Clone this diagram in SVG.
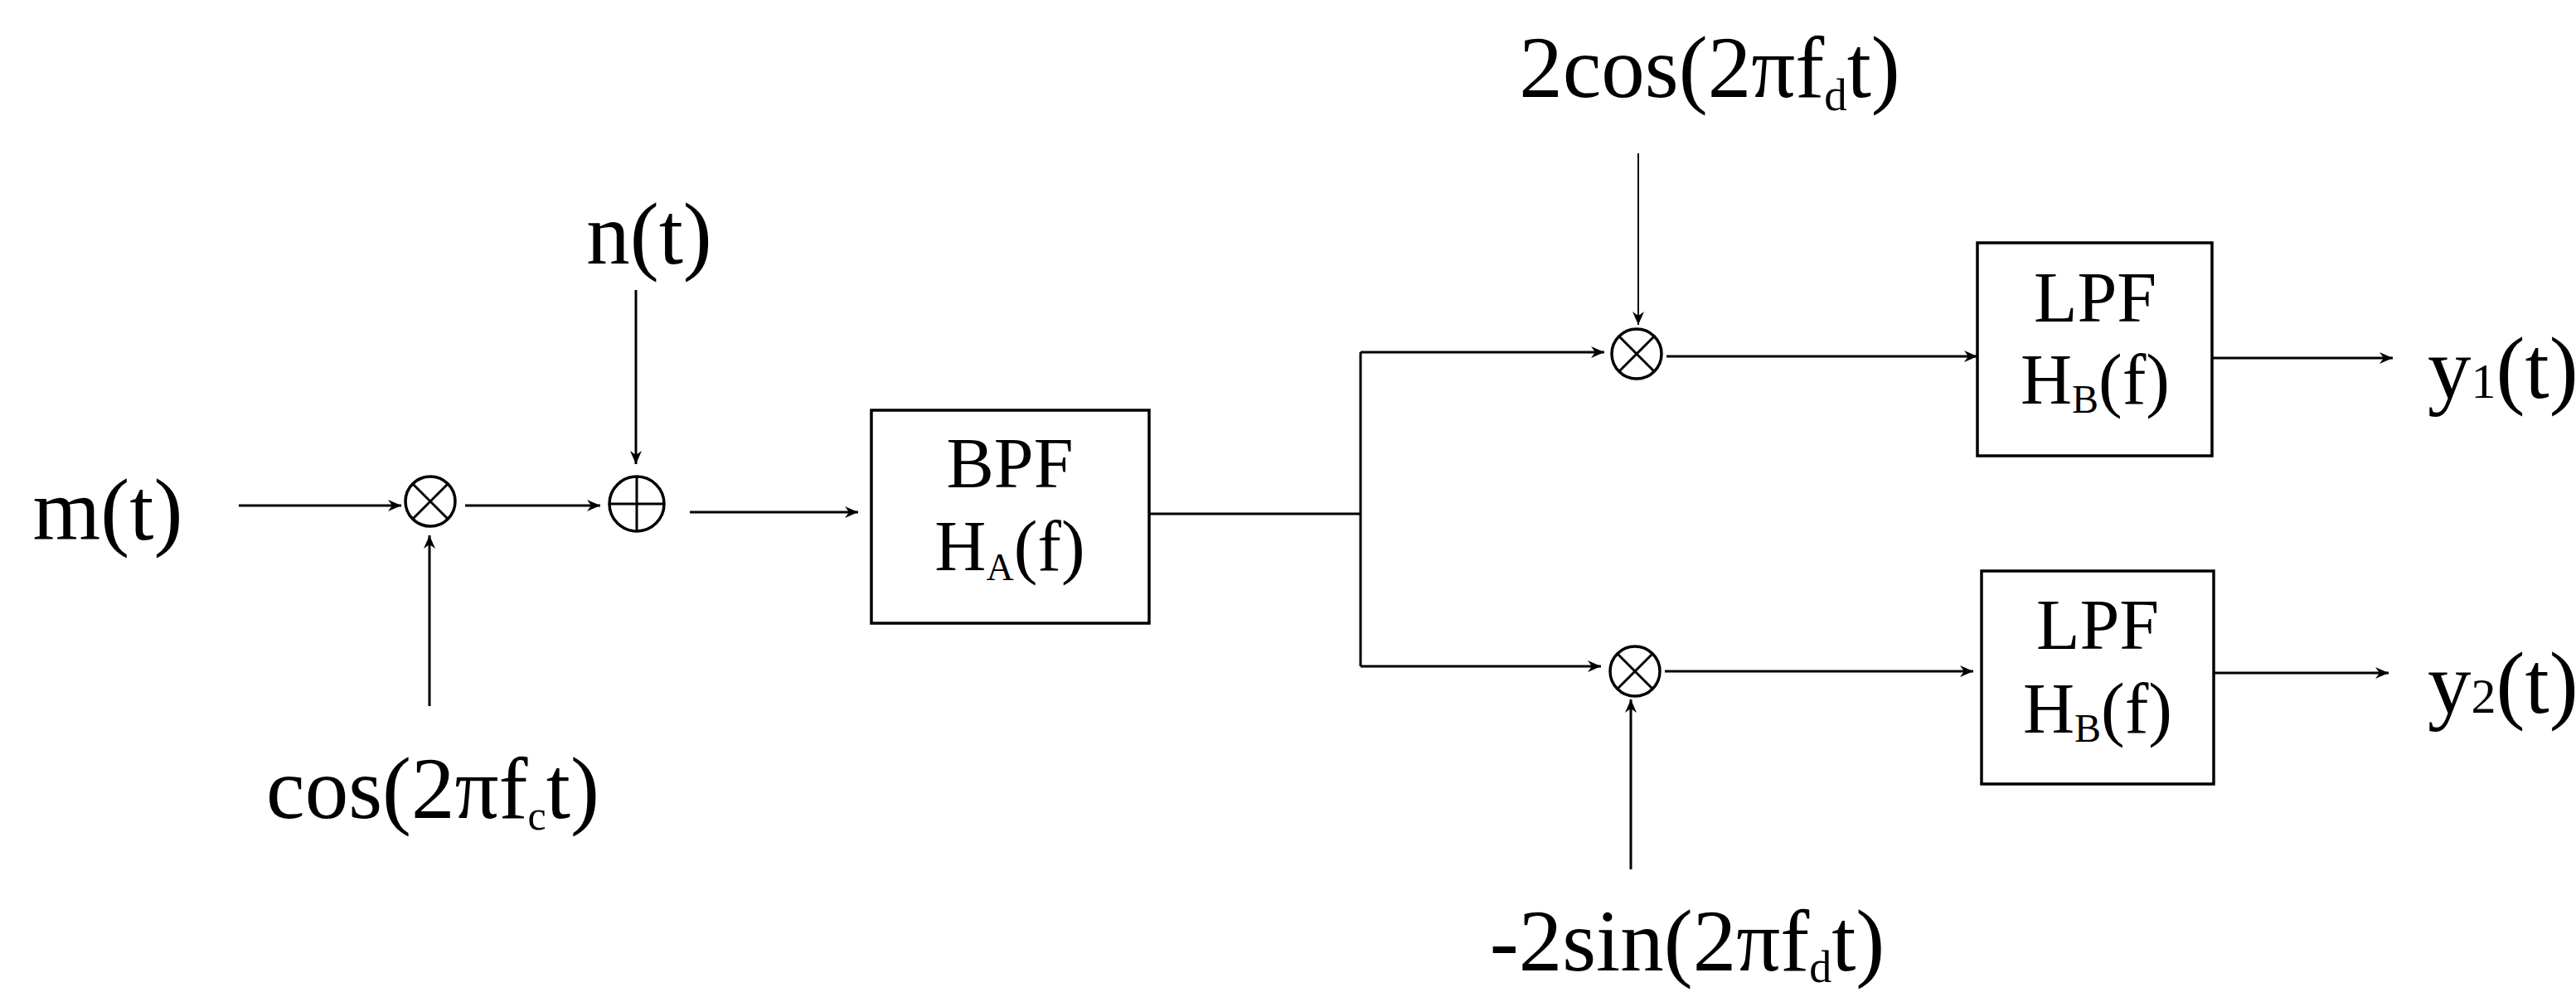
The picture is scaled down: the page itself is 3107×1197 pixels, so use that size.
<svg xmlns="http://www.w3.org/2000/svg" width="3107" height="1197" viewBox="0 0 3107 1197">
<defs>
<style>
.ln{fill:none;stroke:#000;stroke-width:3}
.thin{fill:none;stroke:#000;stroke-width:2}
.box{fill:#fff;stroke:#000;stroke-width:3.5}
.op{fill:#fff;stroke:#000;stroke-width:3.5}
.opl{stroke:#000;stroke-width:3}
.lbl{font-family:"Liberation Serif","Times New Roman",serif;font-size:105px;fill:#000}
.bx{font-family:"Liberation Serif","Times New Roman",serif;font-size:86px;fill:#000;text-anchor:middle}
</style>
<marker id="ah" markerUnits="userSpaceOnUse" markerWidth="20" markerHeight="16" refX="16" refY="7" orient="auto">
<path d="M0,0 L16,7 L0,14 L5,7 z" fill="#000"/>
</marker>
</defs>
<rect width="3107" height="1197" fill="#fff"/>
<g id="connectors">
<path class="ln" d="M288,610 H484" marker-end="url(#ah)"/>
<path class="ln" d="M518,852 V646" marker-end="url(#ah)"/>
<path class="ln" d="M561,610 H724" marker-end="url(#ah)"/>
<path class="ln" d="M767,350 V560" marker-end="url(#ah)"/>
<path class="ln" d="M832,618 H1035" marker-end="url(#ah)"/>
<path class="ln" d="M1386,620 H1641"/>
<path class="ln" d="M1641,425 V804"/>
<path class="ln" d="M1641,425 H1935" marker-end="url(#ah)"/>
<path class="ln" d="M1641,804 H1931" marker-end="url(#ah)"/>
<path class="thin" d="M1976,185 V392" marker-end="url(#ah)"/>
<path class="ln" d="M1967,1049 V844" marker-end="url(#ah)"/>
<path class="ln" d="M2010,430 H2385" marker-end="url(#ah)"/>
<path class="ln" d="M2008,810 H2380" marker-end="url(#ah)"/>
<path class="ln" d="M2668,432 H2886" marker-end="url(#ah)"/>
<path class="ln" d="M2670,812 H2881" marker-end="url(#ah)"/>
</g>
<g id="mult0">
<circle class="op" cx="519" cy="605" r="30"/>
<path class="opl" d="M498,584 L540,626 M540,584 L498,626"/>
</g>
<g id="adder">
<circle class="op" cx="768" cy="608" r="33"/>
<path class="opl" d="M735,608 H801 M768,575 V641"/>
</g>
<g id="bpf">
<rect class="box" x="1051" y="495" width="335" height="257"/>
<text class="bx" x="1218" y="588">BPF</text>
<text class="bx" x="1218" y="688">H<tspan font-size="46" dy="12">A</tspan><tspan dy="-12">(f)</tspan></text>
</g>
<g id="mult1">
<circle class="op" cx="1974" cy="427" r="30"/>
<path class="opl" d="M1953,406 L1995,448 M1995,406 L1953,448"/>
</g>
<g id="mult2">
<circle class="op" cx="1972" cy="810" r="30"/>
<path class="opl" d="M1951,789 L1993,831 M1993,789 L1951,831"/>
</g>
<g id="lpf1">
<rect class="box" x="2385" y="293" width="283" height="257"/>
<text class="bx" x="2527" y="388">LPF</text>
<text class="bx" x="2527" y="487">H<tspan font-size="48" dy="11">B</tspan><tspan dy="-11">(f)</tspan></text>
</g>
<g id="lpf2">
<rect class="box" x="2390" y="689" width="280" height="257"/>
<text class="bx" x="2530" y="783">LPF</text>
<text class="bx" x="2530" y="884">H<tspan font-size="48" dy="11">B</tspan><tspan dy="-11">(f)</tspan></text>
</g>
<g id="labels">
<text class="lbl" x="130" y="651" text-anchor="middle">m(t)</text>
<text class="lbl" x="783" y="318" text-anchor="middle">n(t)</text>
<text class="lbl" x="522" y="987" text-anchor="middle">cos(2πf<tspan font-size="50" dy="14">c</tspan><tspan dy="-14">t)</tspan></text>
<text class="lbl" x="2062" y="117" text-anchor="middle" font-size="108">2cos(2πf<tspan font-size="55" dy="16">d</tspan><tspan dy="-16">t)</tspan></text>
<text class="lbl" x="2035" y="1171" text-anchor="middle" font-size="106">-2sin(2πf<tspan font-size="54" dy="14">d</tspan><tspan dy="-14">t)</tspan></text>
<text class="lbl" x="2928" y="480" font-size="100">y<tspan font-size="60">1</tspan>(t)</text>
<text class="lbl" x="2928" y="860" font-size="100">y<tspan font-size="60">2</tspan>(t)</text>
</g>
</svg>
